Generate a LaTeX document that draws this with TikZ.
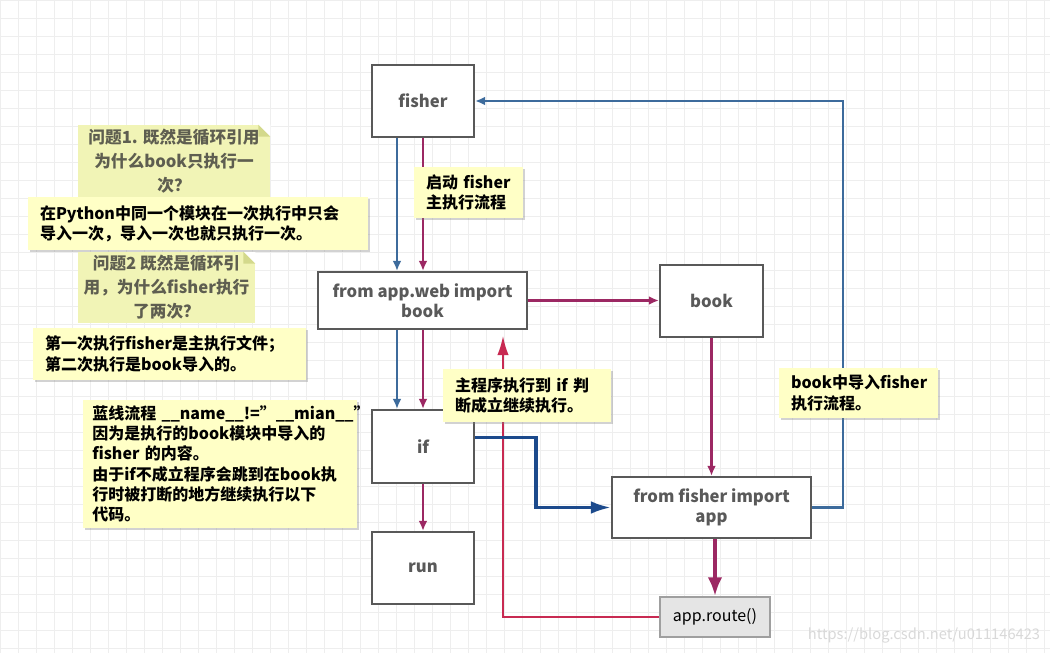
\documentclass[tikz,border=0pt]{standalone}
\usepackage{fontspec}
\setmainfont{Noto Sans CJK SC}
\usetikzlibrary{arrows.meta,shadows}
\definecolor{notebg}{HTML}{FFFFC6}
\definecolor{qbg}{HTML}{F1F4B6}
\definecolor{qfold}{HTML}{D3D98C}
\definecolor{qtext}{HTML}{5E5E50}
\definecolor{flowblue}{HTML}{3D6B9C}
\definecolor{ifblue}{HTML}{1C4A8C}
\definecolor{flowred}{HTML}{9C2863}
\definecolor{backred}{HTML}{C82A52}
\definecolor{boxgray}{HTML}{595959}
\tikzset{
  stepbox/.style={draw=boxgray, line width=1.6pt, fill=white, text=boxgray,
    font=\fontsize{12.5}{15}\selectfont\bfseries, align=center, inner sep=0pt},
  notebox/.style={fill=notebg, drop shadow={shadow xshift=1.5pt, shadow yshift=-1.8pt, opacity=.35},
    font=\fontsize{12}{15.2}\selectfont\bfseries, align=left, inner xsep=9pt, inner ysep=0pt},
  askbox/.style={fill=qbg, text=qtext, font=\fontsize{12.5}{18}\selectfont\bfseries,
    align=center, inner sep=0pt},
  blueflow/.style={draw=flowblue, line width=1.8pt, -{Latex[length=7.5pt,width=6.5pt]}},
  redflow/.style={draw=flowred, line width=1.8pt, -{Latex[length=7.5pt,width=6.5pt]}},
}
\begin{document}
\begin{tikzpicture}[x=0.75pt, y=-0.75pt]
  \useasboundingbox (0,0) rectangle (1050,653);
  \fill[white] (0,0) rectangle (1050,653);
  \draw[gray!13, line width=0.4pt, step=13.5pt] (0,653) grid (1050,0);
  % boxes
  \node[stepbox, minimum width=76.5pt, minimum height=54pt] (fisher) at (423,101) {fisher};
  \node[stepbox, minimum width=156.75pt, minimum height=42.75pt] (web) at (422.5,300.5) {from app.web import\\book};
  \node[stepbox, minimum width=77.25pt, minimum height=54pt] (book) at (711.5,301) {book};
  \node[stepbox, minimum width=76.5pt, minimum height=54.75pt] (if) at (423,446.5) {if};
  \node[stepbox, minimum width=76.5pt, minimum height=54pt] (run) at (423,568) {run};
  \node[stepbox, minimum width=149.25pt, minimum height=45.75pt] (app) at (711.5,507.5) {from fisher import\\app};
  \node[stepbox, draw=gray!75, fill=gray!20, text=black, font=\fontsize{12}{14}\selectfont,
    minimum width=82.5pt, minimum height=30pt] (route) at (715,617) {app.route()};
  \coordinate (bx) at (397,0);
  \coordinate (rx) at (843,0);
  \coordinate (backtip) at (503,335);
  % main flow
  \draw[redflow] (fisher.south) -- (fisher.south |- web.north);
  \draw[redflow] (web.south -| fisher) -- (if.north);
  \draw[redflow] (if.south) -- (run.north);
  \draw[redflow] (web.east) -- (web.east -| book.west);
  \draw[redflow] (book.south) -- (app.north);
  \draw[redflow, line width=2.6pt, -{Latex[length=14pt,width=11pt]}] (app.south -| route) -- (route.north);
  % back to the caller
  \draw[backred, line width=2.2pt, -{Latex[length=15pt,width=8.5pt]}] (route.west) -| (backtip);
  % blue flow
  \draw[blueflow] (fisher.south -| bx) -- (web.north -| bx);
  \draw[blueflow] (web.south -| bx) -- (if.north -| bx);
  \draw[blueflow] (app.east) -| (rx |- fisher.east) -- (fisher.east);
  \draw[ifblue, line width=2.4pt, -{Latex[length=15pt,width=9.5pt]}] ([yshift=6.75pt]if.east) -| ([xshift=-56.25pt]app.west) -- (app.west);
  % questions
  \node[askbox, minimum width=144pt, minimum height=54pt] (ask1) at (174,161) {问题1. 既然是循环引用\\为什么book只执行一\\次？};
  \node[askbox, minimum width=132.75pt, minimum height=53.25pt] (ask2) at (166.5,287.5) {问题2 既然是循环引\\用，为什么fisher执行\\了两次？};
  \foreach \q in {ask1,ask2} {
    \fill[white] ([xshift=-9pt]\q.north east) -- (\q.north east) -- ([yshift=-9pt]\q.north east) -- cycle;
    \fill[qfold] ([xshift=-9pt]\q.north east) -- ([yshift=-9pt]\q.north east) -- ([xshift=-9pt,yshift=-9pt]\q.north east) -- cycle;
  }
  % notes
  \node[notebox, text width=237pt, minimum height=39.75pt] (ans1) at (198,223.5) {在Python中同一个模块在一次执行中只会\\导入一次，导入一次也就只执行一次。};
  \node[notebox, text width=186.75pt, minimum height=39pt] (ans2) at (169.5,354) {第一次执行fisher是主执行文件；\\第二次执行是book导入的。};
  \node[notebox, inner xsep=7pt, text width=191.5pt, minimum height=96pt] (bluenote) at (220,464) {\mbox{蓝线流程 \_\_name\_\_!="\_\_mian\_\_"}\\因为是执行的book模块中导入的\\fisher 的内容。\\由于if不成立程序会跳到在book执\\行时被打断的地方继续执行以下\\代码。};
  \node[notebox, text width=63.75pt, minimum height=38.25pt] (start) at (468.5,192.5) {启动 fisher\\主执行流程};
  \node[notebox, text width=108pt, minimum height=39.75pt] (mainnote) at (527,395.5) {主程序执行到 if 判\\断成立继续执行。};
  \node[notebox, text width=101.25pt, minimum height=37.5pt] (booknote) at (858.5,393) {book中导入fisher\\执行流程。};
  \node[text=gray!30, font=\fontsize{11}{13}\selectfont] (mark) at (924,635) {https://blog.csdn.net/u011146423};
\end{tikzpicture}
\end{document}
